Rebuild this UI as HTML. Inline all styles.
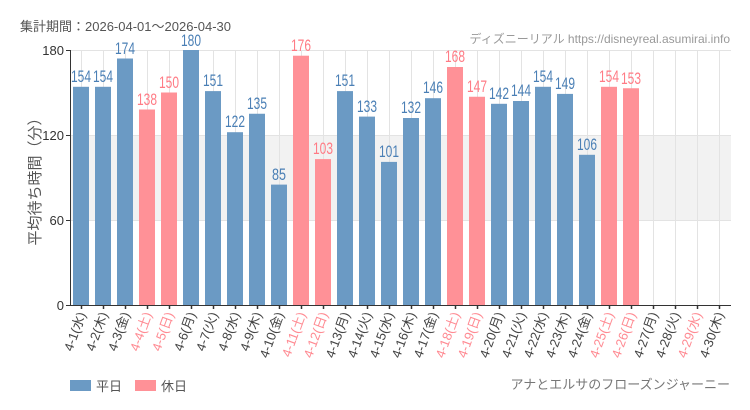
<!DOCTYPE html><html><head><meta charset="utf-8"><style>
body{margin:0;background:#fff;}
svg{display:block;font-family:"Liberation Sans","Noto Sans CJK JP",sans-serif;}
.v{font-family:"Liberation Sans",sans-serif;font-size:17px;text-anchor:middle;}
.b{fill:#4a7fb5}.p{fill:#ff7b85}
.l{font-size:13px;text-anchor:end;fill:#444}
.lp{font-size:13px;text-anchor:end;fill:#ff8a92}
</style></head><body>
<svg width="750" height="410" viewBox="0 0 750 410">
<text x="20" y="31" font-size="13" fill="#555">集計期間：2026-04-01～2026-04-30</text>
<text x="730" y="43" font-size="12" fill="#999" text-anchor="end">ディズニーリアル https://disneyreal.asumirai.info</text>
<rect x="70" y="135" width="661" height="85" fill="#f2f2f2"/>
<g stroke="#e3e3e3" stroke-width="1">
<line x1="70" y1="50.5" x2="731" y2="50.5"/><line x1="70" y1="135.5" x2="731" y2="135.5"/><line x1="70" y1="220.5" x2="731" y2="220.5"/>
<line x1="81.5" y1="50" x2="81.5" y2="305"/><line x1="103.5" y1="50" x2="103.5" y2="305"/><line x1="125.5" y1="50" x2="125.5" y2="305"/><line x1="147.5" y1="50" x2="147.5" y2="305"/><line x1="169.5" y1="50" x2="169.5" y2="305"/><line x1="191.5" y1="50" x2="191.5" y2="305"/><line x1="213.5" y1="50" x2="213.5" y2="305"/><line x1="235.5" y1="50" x2="235.5" y2="305"/><line x1="257.5" y1="50" x2="257.5" y2="305"/><line x1="279.5" y1="50" x2="279.5" y2="305"/><line x1="301.5" y1="50" x2="301.5" y2="305"/><line x1="323.5" y1="50" x2="323.5" y2="305"/><line x1="345.5" y1="50" x2="345.5" y2="305"/><line x1="367.5" y1="50" x2="367.5" y2="305"/><line x1="389.5" y1="50" x2="389.5" y2="305"/><line x1="411.5" y1="50" x2="411.5" y2="305"/><line x1="433.5" y1="50" x2="433.5" y2="305"/><line x1="455.5" y1="50" x2="455.5" y2="305"/><line x1="477.5" y1="50" x2="477.5" y2="305"/><line x1="499.5" y1="50" x2="499.5" y2="305"/><line x1="521.5" y1="50" x2="521.5" y2="305"/><line x1="543.5" y1="50" x2="543.5" y2="305"/><line x1="565.5" y1="50" x2="565.5" y2="305"/><line x1="587.5" y1="50" x2="587.5" y2="305"/><line x1="609.5" y1="50" x2="609.5" y2="305"/><line x1="631.5" y1="50" x2="631.5" y2="305"/><line x1="653.5" y1="50" x2="653.5" y2="305"/><line x1="675.5" y1="50" x2="675.5" y2="305"/><line x1="697.5" y1="50" x2="697.5" y2="305"/><line x1="719.5" y1="50" x2="719.5" y2="305"/>
</g>
<g fill="#6b9ac4">
<rect x="73" y="86.8" width="16" height="218.2"/><rect x="95" y="86.8" width="16" height="218.2"/><rect x="117" y="58.5" width="16" height="246.5"/>
<rect x="183" y="50" width="16" height="255"/><rect x="205" y="91.1" width="16" height="213.9"/><rect x="227" y="132.2" width="16" height="172.8"/><rect x="249" y="113.75" width="16" height="191.25"/><rect x="271" y="184.6" width="16" height="120.4"/>
<rect x="337" y="91.1" width="16" height="213.9"/><rect x="359" y="116.6" width="16" height="188.4"/><rect x="381" y="161.9" width="16" height="143.1"/><rect x="403" y="118" width="16" height="187"/><rect x="425" y="98.2" width="16" height="206.8"/>
<rect x="491" y="103.8" width="16" height="201.2"/><rect x="513" y="101" width="16" height="204"/><rect x="535" y="86.8" width="16" height="218.2"/><rect x="557" y="93.9" width="16" height="211.1"/><rect x="579" y="154.8" width="16" height="150.2"/>
</g>
<g fill="#ff9197">
<rect x="139" y="109.5" width="16" height="195.5"/><rect x="161" y="92.5" width="16" height="212.5"/>
<rect x="293" y="55.7" width="16" height="249.3"/><rect x="315" y="159.1" width="16" height="145.9"/>
<rect x="447" y="67" width="16" height="238"/><rect x="469" y="96.75" width="16" height="208.25"/>
<rect x="601" y="86.8" width="16" height="218.2"/><rect x="623" y="88.25" width="16" height="216.75"/>
</g>
<g class="v" lengthAdjust="spacingAndGlyphs">
<text class="b" x="81" y="82" textLength="20" lengthAdjust="spacingAndGlyphs">154</text><text class="b" x="103" y="82" textLength="20" lengthAdjust="spacingAndGlyphs">154</text><text class="b" x="125" y="54" textLength="20" lengthAdjust="spacingAndGlyphs">174</text><text class="p" x="147" y="105" textLength="20" lengthAdjust="spacingAndGlyphs">138</text><text class="p" x="169" y="88" textLength="20" lengthAdjust="spacingAndGlyphs">150</text><text class="b" x="191" y="46" textLength="20" lengthAdjust="spacingAndGlyphs">180</text><text class="b" x="213" y="86" textLength="20" lengthAdjust="spacingAndGlyphs">151</text><text class="b" x="235" y="127" textLength="20" lengthAdjust="spacingAndGlyphs">122</text><text class="b" x="257" y="109" textLength="20" lengthAdjust="spacingAndGlyphs">135</text><text class="b" x="279" y="180" textLength="14" lengthAdjust="spacingAndGlyphs">85</text><text class="p" x="301" y="51" textLength="20" lengthAdjust="spacingAndGlyphs">176</text><text class="p" x="323" y="154" textLength="20" lengthAdjust="spacingAndGlyphs">103</text><text class="b" x="345" y="86" textLength="20" lengthAdjust="spacingAndGlyphs">151</text><text class="b" x="367" y="112" textLength="20" lengthAdjust="spacingAndGlyphs">133</text><text class="b" x="389" y="157" textLength="20" lengthAdjust="spacingAndGlyphs">101</text><text class="b" x="411" y="113" textLength="20" lengthAdjust="spacingAndGlyphs">132</text><text class="b" x="433" y="93" textLength="20" lengthAdjust="spacingAndGlyphs">146</text><text class="p" x="455" y="62" textLength="20" lengthAdjust="spacingAndGlyphs">168</text><text class="p" x="477" y="92" textLength="20" lengthAdjust="spacingAndGlyphs">147</text><text class="b" x="499" y="99" textLength="20" lengthAdjust="spacingAndGlyphs">142</text><text class="b" x="521" y="96" textLength="20" lengthAdjust="spacingAndGlyphs">144</text><text class="b" x="543" y="82" textLength="20" lengthAdjust="spacingAndGlyphs">154</text><text class="b" x="565" y="89" textLength="20" lengthAdjust="spacingAndGlyphs">149</text><text class="b" x="587" y="150" textLength="20" lengthAdjust="spacingAndGlyphs">106</text><text class="p" x="609" y="82" textLength="20" lengthAdjust="spacingAndGlyphs">154</text><text class="p" x="631" y="84" textLength="20" lengthAdjust="spacingAndGlyphs">153</text>
</g>
<g stroke="#333" stroke-width="1">
<line x1="70.5" y1="50" x2="70.5" y2="305"/><line x1="70" y1="305.5" x2="731" y2="305.5"/>
<line x1="66" y1="50.5" x2="70" y2="50.5"/><line x1="66" y1="135.5" x2="70" y2="135.5"/><line x1="66" y1="220.5" x2="70" y2="220.5"/><line x1="66" y1="305.5" x2="70" y2="305.5"/>
</g>
<g font-size="13" fill="#333" text-anchor="end"><text x="64" y="55">180</text><text x="64" y="140">120</text><text x="64" y="225">60</text><text x="64" y="310">0</text></g>
<text transform="translate(40,178) rotate(-90)" font-size="15" fill="#555" text-anchor="middle">平均待ち時間（分）</text>
<g stroke="#333" stroke-width="1.5">
<path d="M81.5 305v4M103.5 305v4M125.5 305v4M147.5 305v4M169.5 305v4M191.5 305v4M213.5 305v4M235.5 305v4M257.5 305v4M279.5 305v4M301.5 305v4M323.5 305v4M345.5 305v4M367.5 305v4M389.5 305v4M411.5 305v4M433.5 305v4M455.5 305v4M477.5 305v4M499.5 305v4M521.5 305v4M543.5 305v4M565.5 305v4M587.5 305v4M609.5 305v4M631.5 305v4M653.5 305v4M675.5 305v4M697.5 305v4M719.5 305v4"/>
</g>
<g>
<text class="l" transform="translate(86,314) rotate(-70)">4-1(水)</text>
<text class="l" transform="translate(108,314) rotate(-70)">4-2(木)</text>
<text class="l" transform="translate(130,314) rotate(-70)">4-3(金)</text>
<text class="lp" transform="translate(152,314) rotate(-70)">4-4(土)</text>
<text class="lp" transform="translate(174,314) rotate(-70)">4-5(日)</text>
<text class="l" transform="translate(196,314) rotate(-70)">4-6(月)</text>
<text class="l" transform="translate(218,314) rotate(-70)">4-7(火)</text>
<text class="l" transform="translate(240,314) rotate(-70)">4-8(水)</text>
<text class="l" transform="translate(262,314) rotate(-70)">4-9(木)</text>
<text class="l" transform="translate(284,314) rotate(-70)">4-10(金)</text>
<text class="lp" transform="translate(306,314) rotate(-70)">4-11(土)</text>
<text class="lp" transform="translate(328,314) rotate(-70)">4-12(日)</text>
<text class="l" transform="translate(350,314) rotate(-70)">4-13(月)</text>
<text class="l" transform="translate(372,314) rotate(-70)">4-14(火)</text>
<text class="l" transform="translate(394,314) rotate(-70)">4-15(水)</text>
<text class="l" transform="translate(416,314) rotate(-70)">4-16(木)</text>
<text class="l" transform="translate(438,314) rotate(-70)">4-17(金)</text>
<text class="lp" transform="translate(460,314) rotate(-70)">4-18(土)</text>
<text class="lp" transform="translate(482,314) rotate(-70)">4-19(日)</text>
<text class="l" transform="translate(504,314) rotate(-70)">4-20(月)</text>
<text class="l" transform="translate(526,314) rotate(-70)">4-21(火)</text>
<text class="l" transform="translate(548,314) rotate(-70)">4-22(水)</text>
<text class="l" transform="translate(570,314) rotate(-70)">4-23(木)</text>
<text class="l" transform="translate(592,314) rotate(-70)">4-24(金)</text>
<text class="lp" transform="translate(614,314) rotate(-70)">4-25(土)</text>
<text class="lp" transform="translate(636,314) rotate(-70)">4-26(日)</text>
<text class="l" transform="translate(658,314) rotate(-70)">4-27(月)</text>
<text class="l" transform="translate(680,314) rotate(-70)">4-28(火)</text>
<text class="lp" transform="translate(702,314) rotate(-70)">4-29(水)</text>
<text class="l" transform="translate(724,314) rotate(-70)">4-30(木)</text>
</g>
<rect x="70" y="380" width="21" height="11" fill="#6b9ac4"/>
<text x="96" y="391" font-size="13" fill="#555">平日</text>
<rect x="135" y="380" width="21" height="11" fill="#ff9197"/>
<text x="161" y="391" font-size="13" fill="#555">休日</text>
<text x="730" y="389" font-size="13" fill="#777" text-anchor="end">アナとエルサのフローズンジャーニー</text>
</svg>
</body></html>
